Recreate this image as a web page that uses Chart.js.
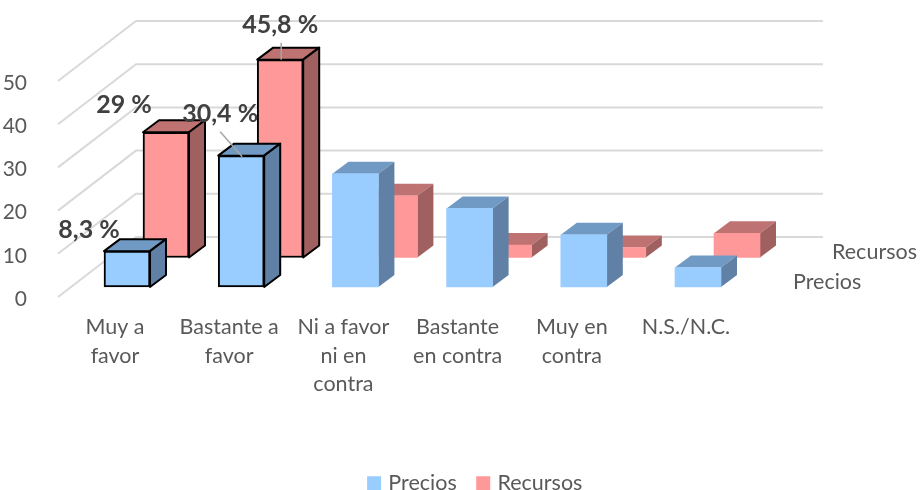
<!DOCTYPE html>
<html>
<head>
<meta charset="utf-8">
<style>
  html, body { margin: 0; padding: 0; background: #fff; overflow: hidden; }
  canvas { display: block; }
</style>
<script src="https://cdn.jsdelivr.net/npm/chart.js@4"></script>
</head>
<body>
<canvas id="chart" width="920" height="490"></canvas>
<script>
// datos
const categories = [['Muy a', 'favor'], ['Bastante a', 'favor'], ['Ni a favor', 'ni en', 'contra'], ['Bastante', 'en contra'], ['Muy en', 'contra'], 'N.S./N.C.'];
const precios = [8.3, 30.4, 26.2, 18.2, 12.1, 4.5];
const recursos = [29, 45.8, 14.3, 2.9, 2.3, 5.6];
const yTicks = [0, 10, 20, 30, 40, 50];

const font = 'Lato, sans-serif';
const textColor = '#595959';

// geometria del area de dibujo
const area = { left: 58, right: 823, top: 15, bottom: 300 };
const pxPerUnit = 4.32;
const pxPerCategory = 114.2;
const depth = { dx: 16, dy: -12 };   // fondo de cada barra
const wall = { dx: 78, dy: -60 };    // paso del suelo a la pared

const xRange = center => ({
  min: (area.left - center) / pxPerCategory,
  max: (area.right - center) / pxPerCategory
});
const yRange = zero => ({
  min: (zero - area.bottom) / pxPerUnit,
  max: (zero - area.top) / pxPerUnit
});

const palette = {
  Precios: { front: '#99CCFF', top: '#709AC3', side: '#6180A5' },
  Recursos: { front: '#FF9999', top: '#BF7272', side: '#A06060' }
};

// etiquetas solo en las dos primeras categorias
const labelSpots = {
  Precios: [{ dx: -38, dy: -21 }, { dx: -21, dy: -42, line: [[-21, -24], [1, 1]] }],
  Recursos: [{ dx: -42, dy: -27 }, { dx: 0, dy: -35, line: [[1, -17], [1, 0]] }]
};

function polygon(ctx, pts, fill, stroke) {
  ctx.beginPath();
  pts.forEach((p, i) => i ? ctx.lineTo(p[0], p[1]) : ctx.moveTo(p[0], p[1]));
  ctx.closePath();
  ctx.fillStyle = fill;
  ctx.fill();
  if (stroke) {
    ctx.strokeStyle = '#000';
    ctx.lineWidth = 2;
    ctx.lineJoin = 'round';
    ctx.stroke();
  }
}

const bars3d = {
  id: 'bars3d',
  afterLayout(chart) {
    // leyenda desplazada como en el original
    const legend = chart.legend;
    legend.left += 65;
    legend.right += 65;
    legend.top += 14;
    legend.bottom += 14;
  },
  beforeDatasetsDraw(chart) {
    const { ctx } = chart;
    const y = chart.scales.y;
    ctx.save();
    ctx.strokeStyle = '#D9D9D9';
    ctx.lineWidth = 2;
    yTicks.forEach(v => {
      const py = y.getPixelForValue(v);
      ctx.beginPath();
      ctx.moveTo(area.left, py);
      ctx.lineTo(area.left + wall.dx, py + wall.dy);
      ctx.lineTo(area.right, py + wall.dy);
      ctx.stroke();
    });
    ctx.restore();
  },
  beforeDatasetDraw(chart, args) {
    const { ctx } = chart;
    const colors = palette[chart.data.datasets[args.index].label];
    ctx.save();
    args.meta.data.forEach((bar, i) => {
      const half = bar.width / 2;
      const l = bar.x - half, r = bar.x + half, t = bar.y, b = bar.base;
      const { dx, dy } = depth;
      const stroke = i < 2;
      polygon(ctx, [[l, t], [r, t], [r + dx, t + dy], [l + dx, t + dy]], colors.top, stroke);
      polygon(ctx, [[r, t], [r + dx, t + dy], [r + dx, b + dy], [r, b]], colors.side, stroke);
    });
    ctx.restore();
  },
  afterDatasetsDraw(chart) {
    const { ctx } = chart;
    ctx.save();
    chart.data.datasets.forEach((ds, di) => {
      const bars = chart.getDatasetMeta(di).data;
      labelSpots[ds.label].forEach((spot, i) => {
        const bar = bars[i];
        if (spot.line) {
          ctx.strokeStyle = '#A6A6A6';
          ctx.lineWidth = 1.5;
          ctx.beginPath();
          ctx.moveTo(bar.x + spot.line[0][0], bar.y + spot.line[0][1]);
          ctx.lineTo(bar.x + spot.line[1][0], bar.y + spot.line[1][1]);
          ctx.stroke();
        }
        ctx.fillStyle = '#404040';
        ctx.font = 'bold 25px ' + font;
        ctx.textAlign = 'center';
        ctx.textBaseline = 'middle';
        ctx.fillText(String(ds.data[i].y).replace('.', ',') + ' %', bar.x + spot.dx, bar.y + spot.dy);
      });
    });
    // eje de profundidad
    ctx.fillStyle = textColor;
    ctx.font = '21.5px ' + font;
    ctx.textAlign = 'left';
    ctx.textBaseline = 'middle';
    ctx.fillText('Recursos', 832, 252);
    ctx.fillText('Precios', 793, 282);
    ctx.restore();
  }
};

function barDataset(label, values, xAxisID, yAxisID, order) {
  const colors = palette[label];
  return {
    label, xAxisID, yAxisID, order,
    data: values.map((v, i) => ({ x: i, y: v })),
    backgroundColor: colors.front,
    borderColor: ctx => ctx.dataIndex < 2 ? '#000' : colors.front,
    borderWidth: ctx => ctx.dataIndex < 2 ? 2 : 0,
    borderSkipped: false,
    barThickness: 46,
    grouped: false
  };
}

new Chart(document.getElementById('chart'), {
  type: 'bar',
  data: {
    datasets: [
      barDataset('Precios', precios, 'x', 'yPrecios', 1),
      barDataset('Recursos', recursos, 'xRecursos', 'yRecursos', 2)
    ]
  },
  options: {
    responsive: false,
    animation: false,
    layout: { padding: { left: 0, right: 920 - area.right, top: area.top, bottom: 0 } },
    plugins: {
      tooltip: { enabled: false },
      legend: {
        position: 'bottom',
        padding: 0,
        labels: {
          color: textColor,
          font: { family: font, size: 21.5 },
          // caja de 7px con trazo de 7px: cuadro de 14px y texto mas cerca
          boxWidth: 7,
          boxHeight: 7,
          padding: 23,
          generateLabels: chart => Chart.defaults.plugins.legend.labels.generateLabels(chart)
            .map(item => ({ ...item, lineWidth: 7, strokeStyle: item.fillStyle }))
        }
      }
    },
    scales: {
      x: {
        type: 'linear',
        offset: false,
        ...xRange(127),
        grid: { display: false },
        border: { display: false },
        afterFit(scale) {
          scale.height = 490 - area.bottom - scale.chart.legend.height;
          scale.paddingLeft = 0;
          scale.paddingRight = 0;
        },
        ticks: {
          stepSize: 1,
          includeBounds: false,
          autoSkip: false,
          maxRotation: 0,
          labelOffset: -12,
          padding: 5,
          color: textColor,
          font: { family: font, size: 21.5, lineHeight: 1.33 },
          callback: v => categories[v] === undefined ? null : categories[v]
        }
      },
      xRecursos: { type: 'linear', offset: false, display: false, ...xRange(166) },
      y: {
        position: 'left',
        ...yRange(297),
        grid: { display: false },
        border: { display: false },
        afterFit(scale) {
          scale.width = area.left;
          scale.paddingTop = 0;
          scale.paddingBottom = 0;
        },
        afterBuildTicks(scale) { scale.ticks = yTicks.map(value => ({ value })); },
        ticks: {
          padding: 23,
          labelOffset: 2,
          color: textColor,
          font: { family: font, size: 21 }
        }
      },
      yPrecios: { display: false, ...yRange(287) },
      yRecursos: { display: false, ...yRange(257.5) }
    }
  },
  plugins: [bars3d]
});
</script>
</body>
</html>
